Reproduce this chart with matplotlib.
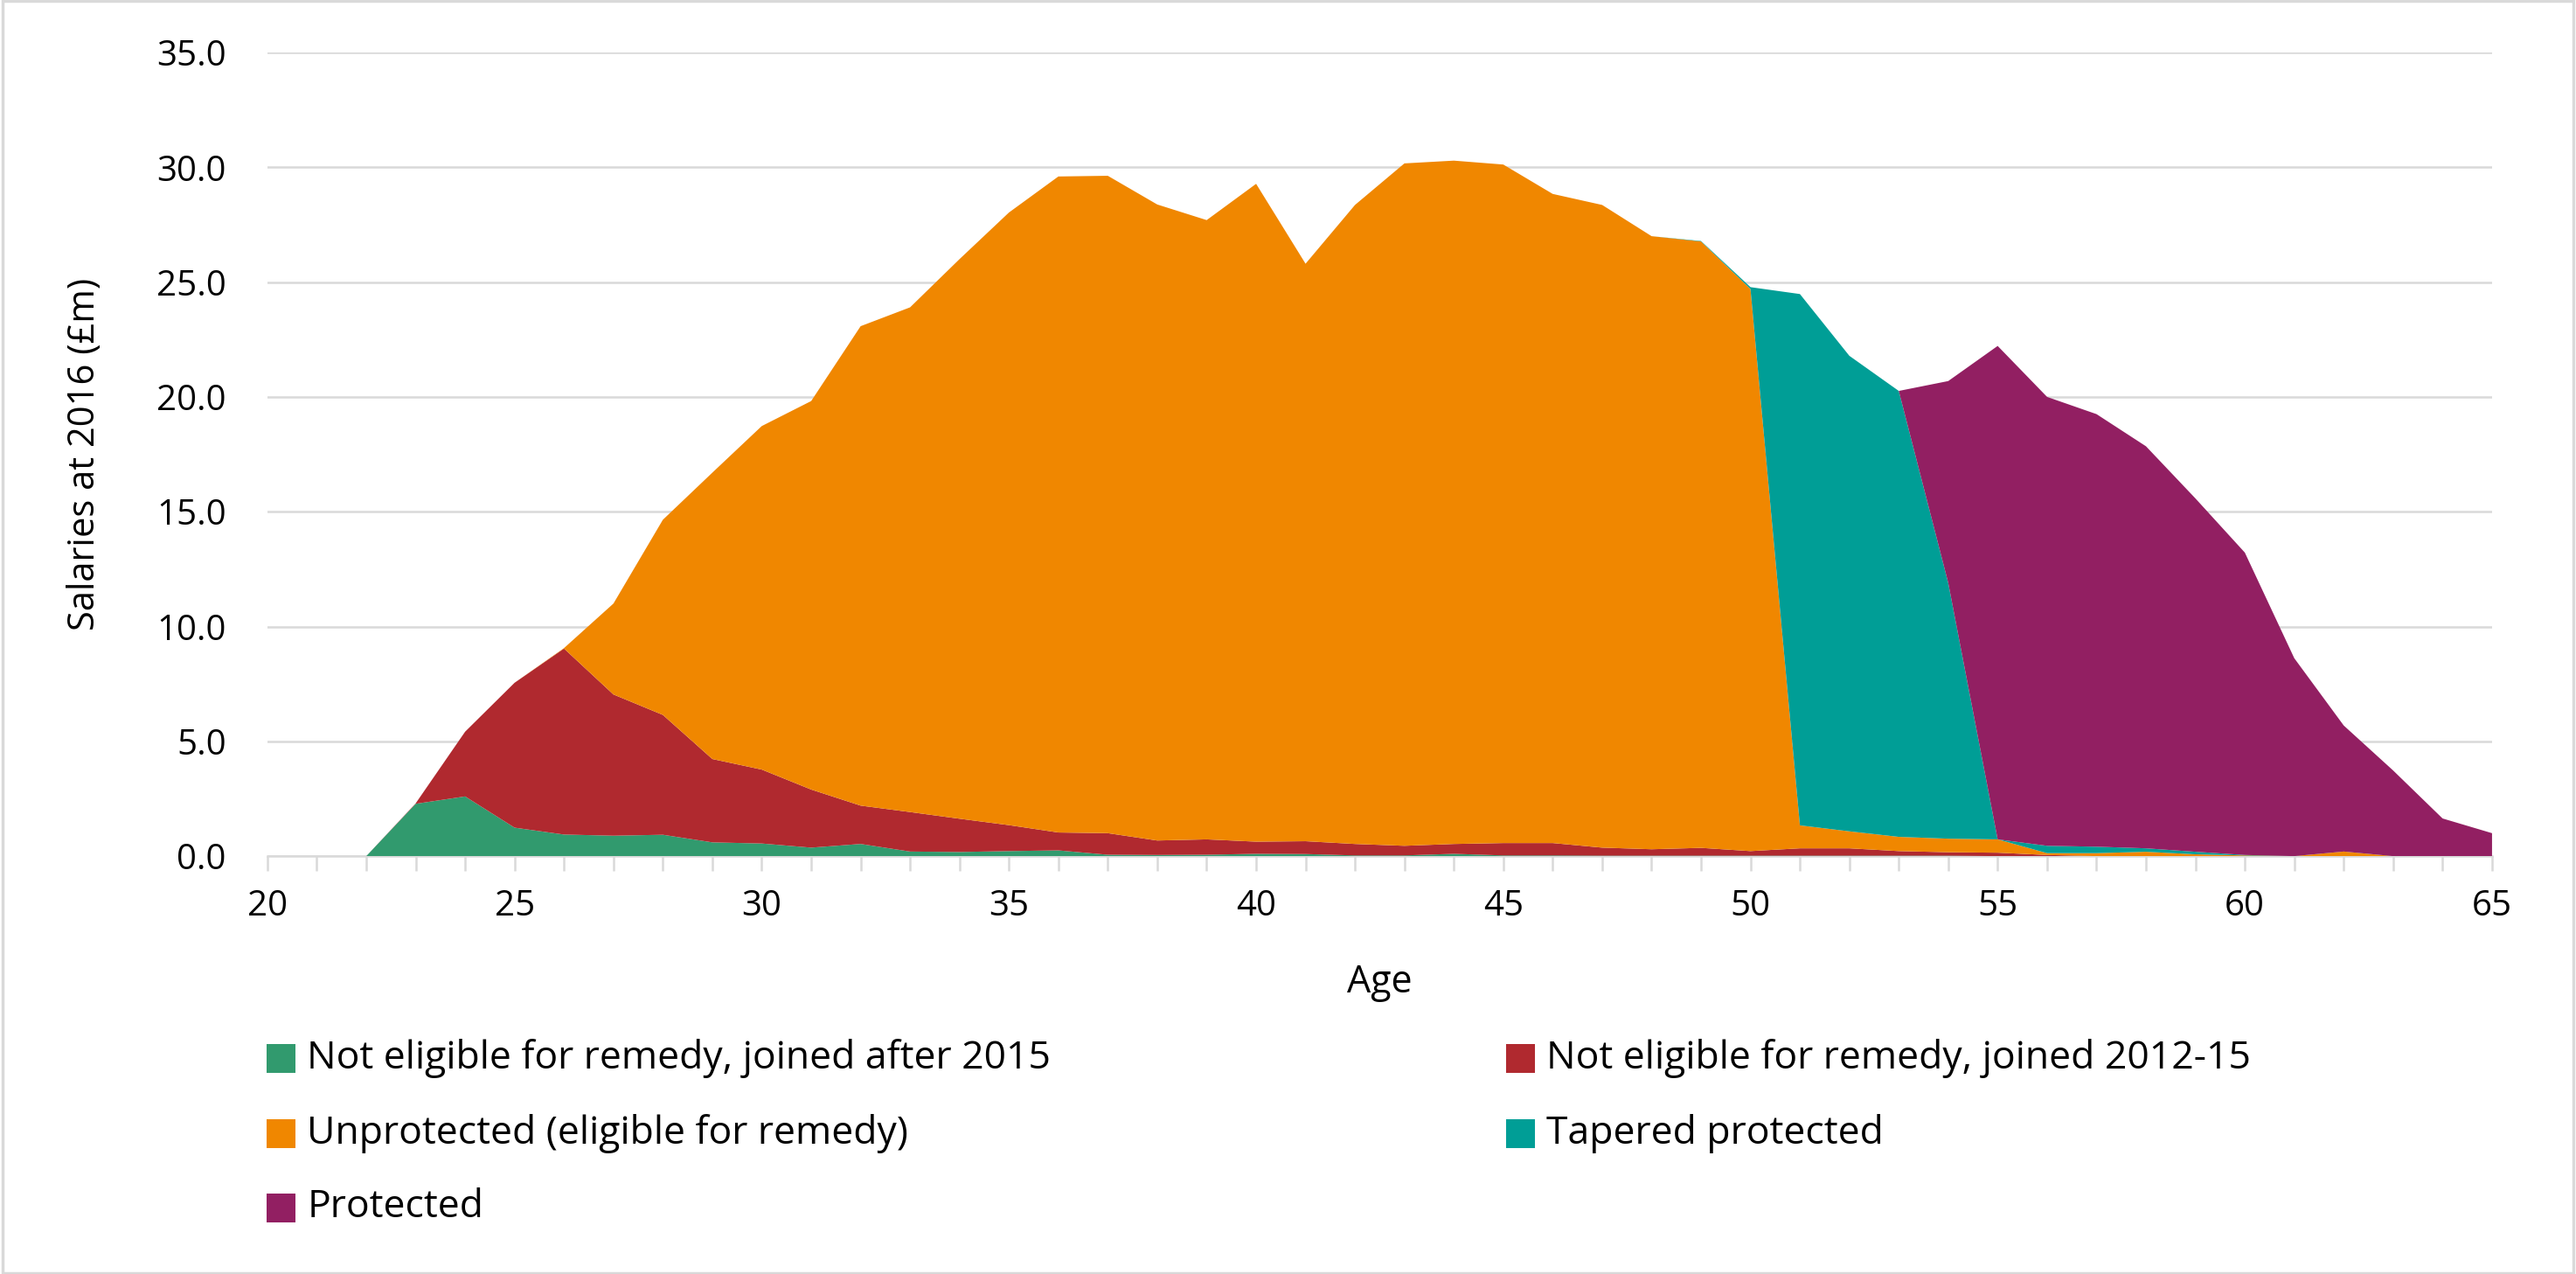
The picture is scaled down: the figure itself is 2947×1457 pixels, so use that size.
import matplotlib
matplotlib.use("Agg")
import matplotlib.pyplot as plt
from matplotlib.patches import Rectangle
from matplotlib.ticker import MultipleLocator, FormatStrFormatter

plt.rcParams["font.family"] = ["Open Sans", "DejaVu Sans"]

# salaries at 2016 (£m) by age, one list per group
ages = list(range(20, 66))

joined_after_2015 = [
    0, 0, 0, 2.28, 2.60, 1.24, 0.94, 0.89, 0.93, 0.60,
    0.55, 0.37, 0.53, 0.20, 0.18, 0.22, 0.25, 0.06, 0.05, 0.06,
    0.10, 0.09, 0.03, 0.03, 0.10, 0.03, 0.03, 0.02, 0.02, 0.02,
    0.02, 0.02, 0.02, 0.02, 0.02, 0, 0, 0, 0, 0,
    0, 0, 0, 0, 0, 0,
]
joined_2012_15 = [
    0, 0, 0, 0.02, 2.82, 6.31, 8.10, 6.15, 5.22, 3.63,
    3.22, 2.53, 1.67, 1.72, 1.45, 1.13, 0.78, 0.94, 0.63, 0.67,
    0.53, 0.56, 0.50, 0.42, 0.43, 0.54, 0.54, 0.35, 0.28, 0.34,
    0.20, 0.32, 0.32, 0.20, 0.15, 0.15, 0.05, 0, 0, 0,
    0, 0, 0, 0, 0, 0,
]
unprotected = [
    0, 0, 0, 0, 0, 0, 0.02, 3.96, 8.50, 12.47,
    14.96, 16.92, 20.88, 21.98, 24.37, 26.68, 28.57, 28.63, 27.70, 26.97,
    28.65, 25.15, 27.83, 29.72, 29.76, 29.55, 28.27, 27.99, 26.70, 26.41,
    24.48, 1.00, 0.74, 0.62, 0.59, 0.58, 0.08, 0.13, 0.19, 0.08,
    0.03, 0, 0.20, 0, 0, 0,
]
tapered = [
    0, 0, 0, 0, 0, 0, 0, 0, 0, 0,
    0, 0, 0, 0, 0, 0, 0, 0, 0, 0,
    0, 0, 0, 0, 0, 0, 0, 0, 0, 0.02,
    0.08, 23.14, 20.71, 19.42, 11.14, 0, 0.32, 0.28, 0.15, 0.11,
    0.02, 0, 0, 0, 0, 0,
]
protected = [
    0, 0, 0, 0, 0, 0, 0, 0, 0, 0,
    0, 0, 0, 0, 0, 0, 0, 0, 0, 0,
    0, 0, 0, 0, 0, 0, 0, 0, 0, 0,
    0, 0, 0, 0, 8.79, 21.49, 19.55, 18.84, 17.51, 15.39,
    13.17, 8.62, 5.49, 3.73, 1.64, 1.00,
]

series_labels = [
    "Not eligible for remedy, joined after 2015",
    "Not eligible for remedy, joined 2012-15",
    "Unprotected (eligible for remedy)",
    "Tapered protected",
    "Protected",
]
series_colors = ["#319A6E", "#B0292F", "#F08700", "#009E96", "#921F62"]

grid_grey = "#D9D9D9"
text_col = "#000000"

fig = plt.figure(figsize=(29.47, 14.57), dpi=100)
ax = fig.add_axes([0.1038, 0.328, 0.8636, 0.6308])

ax.stackplot(
    ages,
    joined_after_2015,
    joined_2012_15,
    unprotected,
    tapered,
    protected,
    colors=series_colors,
    labels=series_labels,
    linewidth=0,
)

ax.set_xlim(20, 65)
ax.set_ylim(0, 35)
ax.set_axisbelow(True)

ax.yaxis.set_major_locator(MultipleLocator(5))
ax.yaxis.set_major_formatter(FormatStrFormatter("%.1f"))
ax.xaxis.set_major_locator(MultipleLocator(5))
ax.xaxis.set_minor_locator(MultipleLocator(1))
ax.grid(axis="y", color=grid_grey, linewidth=1.8)

for side in ["top", "right", "left"]:
    ax.spines[side].set_visible(False)
ax.spines["bottom"].set_color(grid_grey)
ax.spines["bottom"].set_linewidth(1.8)
ax.spines["bottom"].set_zorder(0.5)

ax.tick_params(axis="y", length=0, labelsize=29, pad=34, labelcolor=text_col)
ax.tick_params(axis="x", which="both", direction="out", length=12, width=1.8,
               color=grid_grey, labelsize=29, pad=15, labelcolor=text_col)

ax.set_xlabel("Age", fontsize=31, labelpad=32, color=text_col)
ax.set_ylabel("Salaries at 2016 (£m)", fontsize=30, labelpad=44, color=text_col)

# legend below the plot, laid out as in the original (two columns)
legend_rows = [0.169, 0.110, 0.052]
legend_cols = [0.1035, 0.5845]
slots = [(0, 0), (0, 1), (1, 0), (1, 1), (2, 0)]
sq = 0.0112
aspect = 29.47 / 14.57
for (row, col), label, color in zip(slots, series_labels, series_colors):
    x0 = legend_cols[col]
    y0 = legend_rows[row]
    fig.patches.append(Rectangle((x0, y0 - sq * aspect / 2), sq, sq * aspect,
                                 transform=fig.transFigure, facecolor=color,
                                 edgecolor="none"))
    fig.text(x0 + sq + 0.0045, y0, label, fontsize=32, va="center", ha="left",
             color=text_col)

# light border around the whole chart
fig.patches.append(Rectangle((0.001, 0.001), 0.998, 0.998, transform=fig.transFigure,
                             fill=False, edgecolor=grid_grey, linewidth=2.5))

fig.savefig("out.png", dpi=100)
plt.close(fig)
